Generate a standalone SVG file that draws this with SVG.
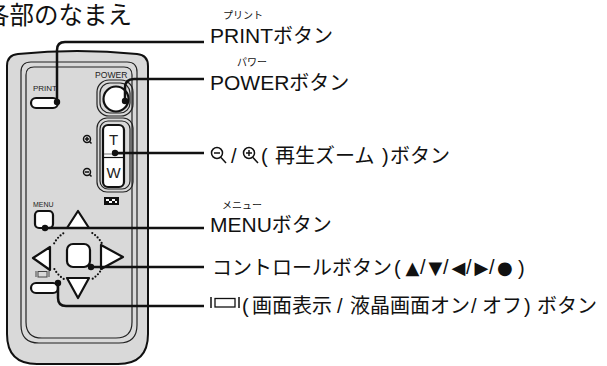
<svg xmlns="http://www.w3.org/2000/svg" width="607" height="366" viewBox="0 0 607 366">
  <style>
    .lbl { font-family: "Liberation Sans", "Noto Sans CJK JP", sans-serif; font-size: 20px; fill: #111; }
    .ruby { font-family: "Noto Sans CJK JP", sans-serif; font-size: 10px; fill: #111; }
    .tiny { font-family: "Liberation Sans", sans-serif; fill: #222; }
    .sym { font-family: "DejaVu Sans", sans-serif; font-size: 18px; fill: #111; }
    .body { fill: #d9d9d9; stroke: #111; stroke-width: 2; }
    .panel { fill: none; stroke: #222; stroke-width: 1.2; }
    .btn { fill: #fff; stroke: #111; stroke-width: 2.2; stroke-linejoin: round; }
    .wire { fill: none; stroke: #111; stroke-width: 2.5; }
    .dot { fill: #111; }
    .dots { fill: none; stroke: #111; stroke-width: 2.2; stroke-linecap: round; stroke-dasharray: 0 3.4; }
    .ico { fill: none; stroke: #111; stroke-width: 1.5; }
  </style>

  <!-- heading -->
  <text x="-15" y="24" font-family="Noto Sans CJK JP, sans-serif" font-size="24.5" fill="#111">各部のなまえ</text>

  <!-- remote controller body -->
  <g id="remote">
    <path class="body" d="M7,66 Q7,55 18,54 Q77,48 137,54 Q148,55 148,66 V334 Q148,364 118,364 H37 Q7,364 7,334 Z"/>
    <path class="panel" d="M21,72 Q21,62 31,62 H127 Q137,62 137,72 V325 Q137,343 119,343 H39 Q21,343 21,325 Z"/>
    <path class="panel" d="M26,75 Q26,67 34,67 H124 Q132,67 132,75 V322 Q132,338 116,338 H42 Q26,338 26,322 Z"/>
  </g>

  <g id="print-button">
    <text class="tiny" x="33" y="91" font-size="8">PRINT</text>
    <rect class="btn" x="31" y="98" width="27" height="10" rx="5"/>
  </g>

  <g id="power-button">
    <text class="tiny" x="95" y="78" font-size="8.6">POWER</text>
    <rect class="panel" x="97" y="80" width="36" height="36" rx="12"/>
    <rect class="panel" x="100" y="83" width="30" height="30" rx="10"/>
    <circle class="btn" cx="116" cy="99" r="12.5"/>
  </g>

  <g id="zoom-button">
    <rect class="panel" x="97" y="118" width="36" height="74" rx="10"/>
    <rect class="panel" x="100" y="121" width="30" height="68" rx="8"/>
    <rect class="btn" x="103" y="125" width="21" height="62" rx="5"/>
    <line x1="104" y1="154" x2="123" y2="154" stroke="#777" stroke-width="1"/>
    <line x1="104" y1="157.5" x2="123" y2="157.5" stroke="#111" stroke-width="1.2"/>
    <text class="tiny" x="113.5" y="145" font-size="15" text-anchor="middle" fill="#111">T</text>
    <text class="tiny" x="113.5" y="178" font-size="15" text-anchor="middle" fill="#111">W</text>
    <!-- zoom in / zoom out marks -->
    <circle class="ico" cx="87" cy="139" r="3.5" stroke-width="1"/>
    <path class="ico" stroke-width="1" d="M85,139 H89 M87,137 V141 M89.5,141.5 L91.5,143.5"/>
    <circle class="ico" cx="87" cy="172" r="3.5" stroke-width="1"/>
    <path class="ico" stroke-width="1" d="M85,172 H89 M89.5,174.5 L91.5,176.5"/>
  </g>

  <g id="display-mark">
    <rect x="104" y="197" width="15" height="8" fill="#111"/>
    <rect x="106" y="199" width="3" height="2" fill="#fff"/>
    <rect x="112" y="199" width="3" height="2" fill="#fff"/>
    <rect x="109" y="201" width="3" height="2" fill="#fff"/>
    <rect x="115" y="201" width="2" height="2" fill="#fff"/>
  </g>

  <g id="menu-button">
    <text class="tiny" x="33" y="207" font-size="7">MENU</text>
    <rect class="btn" x="35" y="211" width="18" height="17" rx="4"/>
  </g>

  <g id="control-button">
    <path class="dots" d="M54.16,243.32 A27,27 0 0 1 63.69,233.1"/>
    <path class="dots" d="M92.31,233.1 A27,27 0 0 1 101.84,243.32"/>
    <path class="dots" d="M101.84,268.68 A27,27 0 0 1 92.31,278.9"/>
    <path class="dots" d="M63.69,278.9 A27,27 0 0 1 54.16,268.68"/>
    <polygon class="btn" points="78,211 67,228 89,228"/>
    <polygon class="btn" points="33,258 50,247 50,270"/>
    <polygon class="btn" points="123,257 101,245 101,269"/>
    <polygon class="btn" points="67,278 89,278 78,298"/>
    <rect class="btn" x="67" y="244" width="23" height="23" rx="6"/>
  </g>

  <g id="screen-button">
    <path d="M36,271 V277 M49,271 V277" stroke="#444" stroke-width="1"/>
    <rect x="38" y="271.5" width="9" height="5.5" fill="none" stroke="#444" stroke-width="1"/>
    <rect class="btn" x="31" y="283" width="27" height="10" rx="5"/>
  </g>

  <!-- leader lines -->
  <g id="connectors">
    <path class="wire" d="M57,102 V50 Q57,42 65,42 H204"/>
    <circle class="dot" cx="57" cy="102" r="3.2"/>
    <path class="wire" d="M125,101 V88 Q125,79 134,79 H204"/>
    <circle class="dot" cx="125" cy="101" r="3.2"/>
    <path class="wire" d="M115,153 H204"/>
    <circle class="dot" cx="115" cy="153" r="3.2"/>
    <path class="wire" d="M45,228 H204"/>
    <circle class="dot" cx="45" cy="228" r="3.2"/>
    <path class="wire" d="M91,267 H204"/>
    <circle class="dot" cx="91" cy="267" r="3.2"/>
    <path class="wire" d="M58,283 V298 Q58,306 66,306 H204"/>
    <circle class="dot" cx="58" cy="283" r="3.2"/>
  </g>

  <!-- labels -->
  <g id="label-print">
    <text class="ruby" x="223" y="19">プリント</text>
    <text class="lbl" x="210" y="43"><tspan font-size="21">PRINT</tspan>ボタン</text>
  </g>
  <g id="label-power">
    <text class="ruby" x="237" y="66">パワー</text>
    <text class="lbl" x="210" y="90"><tspan font-size="21">POWER</tspan>ボタン</text>
  </g>
  <g id="label-zoom">
    <circle class="ico" cx="217" cy="153" r="5.5"/>
    <path class="ico" d="M214,153 H220"/>
    <path class="ico" stroke-width="2" d="M221,157.5 L226,163"/>
    <text class="lbl" x="231" y="163">/</text>
    <circle class="ico" cx="249" cy="153" r="5.5"/>
    <path class="ico" d="M246,153 H252 M249,150 V156"/>
    <path class="ico" stroke-width="2" d="M253,157.5 L258,163"/>
    <text class="lbl" y="163"><tspan x="261">(</tspan><tspan x="275">再生ズーム</tspan><tspan x="382">)</tspan><tspan x="390">ボタン</tspan></text>
  </g>
  <g id="label-menu">
    <text class="ruby" x="222" y="209">メニュー</text>
    <text class="lbl" x="210" y="232"><tspan font-size="21">MENU</tspan>ボタン</text>
  </g>
  <g id="label-control">
    <text class="lbl" x="212" y="275">コントロールボタン<tspan x="394">(</tspan></text>
    <text class="sym" y="274"><tspan x="405.5">▲</tspan><tspan x="428.5">▼</tspan><tspan x="451.5">◀</tspan><tspan x="474.5">▶</tspan><tspan x="497">●</tspan></text>
    <text class="lbl" y="274" font-size="17"><tspan x="420">/</tspan><tspan x="443">/</tspan><tspan x="466">/</tspan><tspan x="489">/</tspan></text>
    <text class="lbl" x="518" y="275">)</text>
  </g>
  <g id="label-screen">
    <path d="M211,297 V308 M239,297 V308" stroke="#111" stroke-width="1.5"/>
    <rect x="215" y="298.5" width="20" height="8.5" fill="none" stroke="#111" stroke-width="1.3"/>
    <text class="lbl" y="313" font-size="19.5"><tspan x="242">(</tspan><tspan x="252">画面表示</tspan><tspan x="337">/</tspan><tspan x="350">液晶画面オン</tspan><tspan x="471">/</tspan><tspan x="482">オフ</tspan><tspan x="524">)</tspan><tspan x="537">ボタン</tspan></text>
  </g>
</svg>
